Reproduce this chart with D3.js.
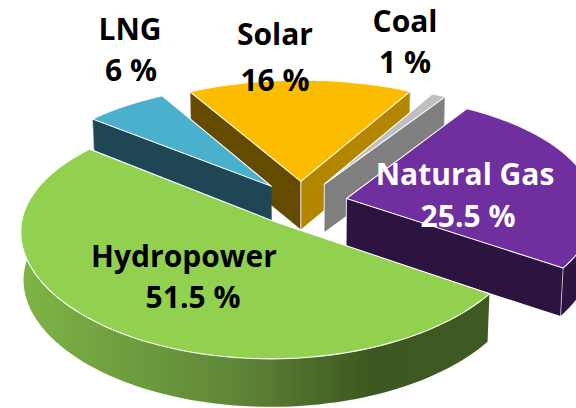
<!DOCTYPE html>
<html>
<head>
<meta charset="utf-8">
<script src="https://cdn.jsdelivr.net/npm/d3@7"></script>
<style>
  html, body { margin: 0; padding: 0; background: #fff; overflow: hidden; }
  text { font-family: "Open Sans", Lato, sans-serif; font-weight: 700; }
</style>
</head>
<body>
<div id="chart"></div>
<script>
// slices, clockwise from the right hand edge of Hydropower
const sources = ["Hydropower", "LNG", "Solar", "Coal", "Natural Gas"];
const shares = [51.5, 6, 16, 1, 25.5];

const topColors = ["#92d050", "#4bb0ce", "#fcbd00", "#bfbfbf", "#6f2f9e"];
const arcColors = ["url(#hydroWall)", "#1f4655", "#654b00", "#7f7f7f", "#2d1340"];
// wall under the first and the last cut of each slice, null where it faces away
const startWalls = [null, "#1f4655", "#654b00", null, null];
const endWalls = [null, null, "#b38600", "#7f7f7f", "#2d1340"];
const drawOrder = ["Solar", "Coal", "LNG", "Natural Gas", "Hydropower"];

const labelColors = ["#000", "#000", "#000", "#000", "#fff"];
const labelX = [184, 130, 275, 405, 465];
const valueX = [193, 131, 275, 405, 468];
const labelY = [267, 40, 45, 32, 185];
const valueY = [308, 81, 91, 73, 227];

const width = 576, height = 408;
const cx = 301, cy = 203; // centre of the pie before exploding
const radiusX = 248, radiusY = 117.5;
const perspX = 0.08, perspY = 0.115;
const explode = 0.188, depth = 48, taper = 0.99;
const startDeg = 124;

const rad = d => d * Math.PI / 180;

// pie plane -> screen, z = 0 on the top face and 1 on the bottom
function project(px, py, z) {
  const sx = 1 / (1 - perspX * py), sy = 1 / (1 - perspY * py);
  return [
    cx + radiusX * px * sx * (z ? taper : 1),
    cy + radiusY * py * sy + z * depth
  ];
}

const pie = d3.pie().sort(null).value(d => d)
  .startAngle(rad(startDeg)).endAngle(rad(startDeg + 360));

const slices = pie(shares).map((d, i) => {
  const a0 = d.startAngle - Math.PI / 2;
  const a1 = d.endAngle - Math.PI / 2;
  const mid = (a0 + a1) / 2;
  const ox = explode * Math.cos(mid), oy = explode * Math.sin(mid);
  const n = Math.max(3, Math.ceil((a1 - a0) / rad(2)));
  const rim = d3.range(n + 1).map(k => a0 + (a1 - a0) * k / n);
  return {
    name: sources[i], i, ox, oy,
    rim: z => rim.map(a => project(ox + Math.cos(a), oy + Math.sin(a), z)),
    apex: z => project(ox, oy, z)
  };
});

const svg = d3.select("#chart").append("svg")
  .attr("width", width)
  .attr("height", height)
  .style("display", "block");

const grad = svg.append("defs").append("linearGradient")
  .attr("id", "hydroWall")
  .attr("gradientUnits", "userSpaceOnUse")
  .attr("x1", 21).attr("x2", 490).attr("y1", 0).attr("y2", 0);
grad.append("stop").attr("offset", 0).attr("stop-color", "#7fb446");
grad.append("stop").attr("offset", 0.45).attr("stop-color", "#5f8737");
grad.append("stop").attr("offset", 0.75).attr("stop-color", "#3c5720");
grad.append("stop").attr("offset", 1).attr("stop-color", "#3f5a22");

const line = d3.line();
const closed = pts => line(pts) + "Z";

const g = svg.selectAll("g.slice")
  .data(drawOrder.map(name => slices.find(d => d.name === name)))
  .join("g")
    .attr("class", "slice");

// outer wall
g.append("path")
    .attr("d", d => closed(d.rim(0).concat(d.rim(1).reverse())))
    .attr("fill", d => arcColors[d.i]);

// cut walls
g.each(function(d) {
  const sel = d3.select(this);
  const top = d.rim(0), bottom = d.rim(1);
  const wall = (k, color) => {
    if (!color) return;
    sel.append("path")
        .attr("d", closed([d.apex(0), top[k], bottom[k], d.apex(1)]))
        .attr("fill", color);
    sel.append("line")
        .attr("x1", top[k][0]).attr("y1", top[k][1])
        .attr("x2", bottom[k][0]).attr("y2", bottom[k][1])
        .attr("stroke", "#fff").attr("stroke-opacity", 0.6);
  };
  wall(0, startWalls[d.i]);
  wall(top.length - 1, endWalls[d.i]);
  if (startWalls[d.i] || endWalls[d.i]) {
    sel.append("line")
        .attr("x1", d.apex(0)[0]).attr("y1", d.apex(0)[1])
        .attr("x2", d.apex(1)[0]).attr("y2", d.apex(1)[1])
        .attr("stroke", "#fff")
        .attr("stroke-opacity", d.name === "LNG" ? 0 : 0.85);
  }
});

// top face
g.append("path")
    .attr("d", d => closed([d.apex(0)].concat(d.rim(0))))
    .attr("fill", d => topColors[d.i])
    .attr("stroke", "#fff")
    .attr("stroke-width", 1.1)
    .attr("stroke-linejoin", "round");

const labels = svg.selectAll("text.label")
  .data(sources)
  .join("text")
    .attr("class", "label")
    .attr("text-anchor", "middle")
    .attr("font-size", 30)
    .attr("fill", (d, i) => labelColors[i]);

labels.append("tspan")
    .attr("x", (d, i) => labelX[i])
    .attr("y", (d, i) => labelY[i])
    .text(d => d);
labels.append("tspan")
    .attr("x", (d, i) => valueX[i])
    .attr("y", (d, i) => valueY[i])
    .text((d, i) => `${shares[i]} %`);
</script>
</body>
</html>
